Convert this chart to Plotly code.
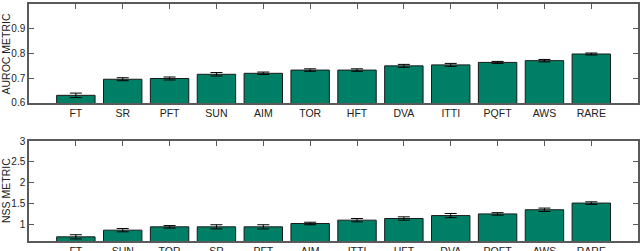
import plotly.graph_objects as go
from plotly.subplots import make_subplots

auroc_labels = ["FT", "SR", "PFT", "SUN", "AIM", "TOR", "HFT", "DVA", "ITTI", "PQFT", "AWS", "RARE"]
auroc_values = [0.631, 0.696, 0.699, 0.716, 0.720, 0.733, 0.733, 0.750, 0.754, 0.764, 0.771, 0.798]
auroc_err = [0.009, 0.006, 0.006, 0.007, 0.005, 0.005, 0.005, 0.006, 0.006, 0.004, 0.005, 0.004]

nss_labels = ["FT", "SUN", "TOR", "SR", "PFT", "AIM", "ITTI", "HFT", "DVA", "PQFT", "AWS", "RARE"]
nss_values = [0.70, 0.86, 0.94, 0.94, 0.94, 1.02, 1.10, 1.14, 1.21, 1.25, 1.35, 1.51]
nss_err = [0.05, 0.04, 0.03, 0.05, 0.05, 0.03, 0.04, 0.04, 0.05, 0.03, 0.04, 0.03]

bar_color = "rgb(0,127,103)"
axis_color = "#5a5a5a"
xfont = dict(family="Liberation Sans, Arial, sans-serif", size=10.5, color="#222")
yfont = dict(family="Liberation Sans, Arial, sans-serif", size=10, color="#222")
tfont = dict(family="Liberation Sans, Arial, sans-serif", size=10.5, color="#222")

fig = make_subplots(rows=2, cols=1, vertical_spacing=0.16)

fig.add_trace(go.Bar(
    x=list(range(len(auroc_labels))), y=auroc_values,
    width=0.82, marker=dict(color=bar_color, line=dict(color="#1a1a1a", width=1)),
    error_y=dict(type="data", array=auroc_err, color="black", thickness=1, width=6),
), row=1, col=1)

fig.add_trace(go.Bar(
    x=list(range(len(nss_labels))), y=nss_values,
    width=0.82, marker=dict(color=bar_color, line=dict(color="#1a1a1a", width=1)),
    error_y=dict(type="data", array=nss_err, color="black", thickness=1, width=6),
), row=2, col=1)

xcommon = dict(range=[-1, 12], showgrid=False, zeroline=False, showline=True,
               linecolor=axis_color, linewidth=1.5, mirror="ticks", ticks="inside",
               ticklen=5, tickcolor=axis_color, tickfont=xfont, layer="below traces",
               automargin=False)
ycommon = dict(showgrid=False, zeroline=False, showline=True, linecolor=axis_color,
               linewidth=1.5, mirror="ticks", ticks="inside", ticklen=5,
               tickcolor=axis_color, tickfont=yfont, layer="below traces",
               automargin=False)

fig.update_xaxes(tickmode="array", tickvals=list(range(len(auroc_labels))),
                 ticktext=auroc_labels, domain=[0, 0.997], **xcommon, row=1, col=1)
fig.update_xaxes(tickmode="array", tickvals=list(range(len(nss_labels))),
                 ticktext=nss_labels, domain=[0, 0.997], **xcommon, row=2, col=1)

fig.update_yaxes(range=[0.6, 1.0], tickvals=[0.6, 0.7, 0.8, 0.9, 1.0],
                 ticktext=["0.6", "0.7", "0.8", "0.9", "1"],
                 domain=[0.5823, 1.0], **ycommon, row=1, col=1)
fig.update_yaxes(range=[0.6, 3.0], tickvals=[1, 1.5, 2, 2.5, 3],
                 ticktext=["1", "1.5", "2", "2.5", "3"],
                 domain=[0.0, 0.4219], **ycommon, row=2, col=1)

fig.add_annotation(text="AUROC METRIC", xref="paper", yref="paper",
                   x=-0.0376, y=(0.5823 + 1.0) / 2, textangle=-90,
                   xanchor="center", yanchor="middle", showarrow=False, font=tfont)
fig.add_annotation(text="NSS METRIC", xref="paper", yref="paper",
                   x=-0.0376, y=0.4219 / 2, textangle=-90,
                   xanchor="center", yanchor="middle", showarrow=False, font=tfont)

fig.update_layout(
    width=640, height=251, showlegend=False,
    margin=dict(l=29, r=0, t=4, b=10),
    plot_bgcolor="white", paper_bgcolor="white",
)

fig.write_html("out.html", config={"displayModeBar": False},
               post_script="document.body.style.margin='0';document.body.style.overflow='hidden';")
